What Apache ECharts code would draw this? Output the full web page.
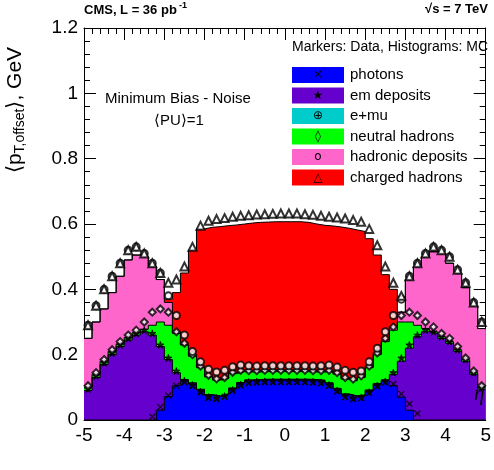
<!DOCTYPE html>
<html><head><meta charset="utf-8">
<script src="https://cdn.jsdelivr.net/npm/echarts@6/dist/echarts.min.js"></script>
<style>html,body{margin:0;background:#fff}#c{width:494px;height:470px}</style>
</head><body><div id="c"></div>
<script>
// eta bins of width 0.2, from -5 to 5 (left half -4.9..-0.1, right half 0.1..4.9)
var photonsCum = [0,0,0,0,0,0,0,0,0,0.03,0.072,0.105,0.12,0.11,0.092,0.076,0.072,0.078,0.096,0.113,0.121,0.122,0.123,0.123,0.123,
    0.123,0.123,0.123,0.122,0.12,0.112,0.095,0.078,0.072,0.075,0.09,0.11,0.12,0.105,0.07,0.03,0,0,0,0,0,0,0,0,0];
var emCum = [0.09,0.13,0.17,0.2,0.225,0.245,0.26,0.27,0.26,0.225,0.185,0.145,0.124,0.114,0.094,0.078,0.074,0.08,0.098,0.115,0.123,0.124,0.125,0.125,0.125,
    0.125,0.125,0.125,0.124,0.122,0.114,0.097,0.08,0.074,0.077,0.092,0.112,0.123,0.14,0.18,0.22,0.255,0.27,0.265,0.25,0.235,0.21,0.18,0.14,0.095];
var neutralCum = [0.1,0.14,0.18,0.21,0.233,0.252,0.267,0.278,0.29,0.3,0.29,0.265,0.23,0.195,0.16,0.132,0.122,0.127,0.142,0.148,0.147,0.147,0.148,0.148,0.148,
    0.148,0.148,0.148,0.147,0.147,0.148,0.14,0.125,0.12,0.13,0.16,0.2,0.24,0.275,0.3,0.3,0.29,0.28,0.27,0.255,0.24,0.215,0.185,0.145,0.1];
var hadronicCum = [0.25,0.3,0.34,0.39,0.44,0.49,0.505,0.5,0.47,0.43,0.36,0.27,0.23,0.198,0.162,0.134,0.124,0.129,0.145,0.151,0.15,0.15,0.151,0.151,0.151,
    0.151,0.151,0.151,0.15,0.15,0.151,0.143,0.128,0.123,0.133,0.163,0.205,0.245,0.285,0.33,0.43,0.47,0.5,0.515,0.51,0.48,0.45,0.405,0.35,0.28];
var chargedCum = [0.25,0.3,0.34,0.39,0.44,0.49,0.505,0.5,0.47,0.43,0.37,0.39,0.45,0.52,0.585,0.59,0.592,0.595,0.597,0.6,0.603,0.605,0.606,0.607,0.607,
    0.607,0.607,0.605,0.6,0.596,0.594,0.591,0.587,0.582,0.577,0.555,0.505,0.445,0.4,0.33,0.43,0.47,0.5,0.515,0.51,0.48,0.45,0.405,0.35,0.28];

// data markers
var dataCharged = [0.29,0.35,0.4,0.44,0.48,0.52,0.53,0.51,0.48,0.45,0.42,0.43,0.47,0.53,0.595,0.61,0.615,0.618,0.622,0.625,0.627,0.629,0.63,0.631,0.632,
    0.632,0.632,0.63,0.628,0.625,0.622,0.62,0.617,0.612,0.607,0.585,0.535,0.47,0.42,0.38,0.44,0.48,0.51,0.53,0.52,0.5,0.46,0.42,0.36,0.3];
var dataHadronic = [0.29,0.35,0.4,0.44,0.48,0.52,0.53,0.51,0.48,0.45,0.38,0.32,0.26,0.21,0.178,0.155,0.147,0.152,0.163,0.168,0.166,0.165,0.166,0.166,0.166,
    0.166,0.166,0.166,0.165,0.166,0.168,0.162,0.152,0.146,0.15,0.178,0.22,0.27,0.32,0.37,0.44,0.48,0.51,0.53,0.52,0.5,0.46,0.42,0.36,0.3];
var dataNeutral = [0.105,0.145,0.185,0.215,0.24,0.26,0.275,0.3,0.33,0.34,0.33,0.27,0.235,0.2,0.165,0.137,0.126,0.13,0.146,0.152,0.151,0.151,0.152,0.152,0.152,
    0.152,0.152,0.152,0.151,0.151,0.152,0.145,0.13,0.125,0.135,0.165,0.205,0.25,0.285,0.32,0.33,0.32,0.3,0.285,0.265,0.25,0.225,0.19,0.15,0.105];
var dataEm = [0.095,0.135,0.175,0.205,0.23,0.25,0.265,0.275,0.265,0.23,0.19,0.15,0.12,0.107,0.087,0.07,0.067,0.073,0.092,0.108,0.116,0.117,0.118,0.118,0.118,
    0.118,0.118,0.118,0.117,0.115,0.107,0.09,0.072,0.066,0.069,0.085,0.105,0.118,0.145,0.19,0.23,0.26,0.275,0.27,0.255,0.24,0.215,0.185,0.145,0.1];
var dataPhotons = [null,null,null,null,null,null,null,null,0.01,0.04,0.075,0.105,0.115,0.104,0.085,0.068,0.064,0.071,0.09,0.106,0.113,0.115,0.116,0.116,0.116,
    0.116,0.116,0.116,0.115,0.113,0.105,0.088,0.07,0.064,0.067,0.083,0.103,0.115,0.11,0.08,0.05,0.02,null,null,null,null,null,null,null,null];

var legendNames = ['photons','em deposits','e+mu','neutral hadrons','hadronic deposits','charged hadrons'];
var legendColors = ['#0000ff','#6600cc','#00cccc','#00ff00','#ff66cc','#ff0000'];
var legendMarks = ['×','★','⊕','◊','o','△'];

function histPoints(vals) {
    var pts = [[-5, vals[0]]];
    for (var i = 0; i < vals.length; i++) {
        pts.push([+(-5 + 0.2 * (i + 1)).toFixed(2), vals[i]]);
    }
    return pts;
}
function markerPoints(vals) {
    var pts = [];
    for (var i = 0; i < vals.length; i++) {
        if (vals[i] != null) pts.push([+(-4.9 + 0.2 * i).toFixed(2), vals[i]]);
    }
    return pts;
}
function hist(vals, color) {
    return {type: 'line', step: 'start', data: histPoints(vals), symbol: 'none',
        lineStyle: {color: '#000', width: 1}, areaStyle: {color: color, opacity: 1}, z: 2};
}
function markers(vals, symbol, size, bw) {
    return {type: 'scatter', data: markerPoints(vals), symbol: symbol, symbolSize: size,
        itemStyle: {color: '#000', borderColor: '#000', borderWidth: bw}, z: 5};
}

var crossPath = 'path://M0,0L10,10M10,0L0,10';
var starPath = 'path://M5,0L6.2,3.6L10,3.6L7,5.9L8.1,9.5L5,7.3L1.9,9.5L3,5.9L0,3.6L3.8,3.6Z';

var myChart = echarts.init(document.getElementById('c'));
var font = 'Liberation Sans';
var graphics = [
    {type: 'text', left: 84, top: 4, style: {text: 'CMS, L = 36 pb', font: 'bold 13px Liberation Sans', fill: '#000'}},
    {type: 'text', left: 179, top: 1, style: {text: '-1', font: 'bold 9px Liberation Sans', fill: '#000'}},
    {type: 'text', right: 6, top: 3, style: {text: '√s = 7 TeV', font: 'bold 13px Liberation Sans', fill: '#000'}},
    {type: 'text', right: 6, top: 40, style: {text: 'Markers: Data, Histograms: MC', font: '14px Liberation Sans', fill: '#000'}},
    {type: 'text', left: 105, top: 91, style: {text: 'Minimum Bias - Noise', font: '15px Liberation Sans', fill: '#000'}},
    {type: 'text', left: 154, top: 113, style: {text: '⟨PU⟩=1', font: '15px Liberation Sans', fill: '#000'}},
    {type: 'text', x: 15, y: 110, rotation: Math.PI / 2,
        style: {text: '⟨p{s|T,offset}⟩, GeV', font: '21px Liberation Sans', fill: '#000', align: 'center', verticalAlign: 'middle',
            rich: {s: {font: '14px Liberation Sans', padding: [10, 0, 0, 0]}}}},
    {type: 'text', left: 474, top: 384, z: 100, style: {text: 'η', font: 'italic 21px Liberation Serif', fill: '#000'}}
];
for (var k = 0; k < legendNames.length; k++) {
    var ly = 67 + k * 20.5;
    graphics.push({type: 'rect', shape: {x: 292, y: ly, width: 52, height: 16},
        style: {fill: legendColors[k], stroke: 'none'}});
    graphics.push({type: 'text', x: 318, y: ly + 8, style: {text: legendMarks[k], font: '12px DejaVu Sans',
        fill: '#000', align: 'center', verticalAlign: 'middle'}});
    graphics.push({type: 'text', x: 350, y: ly + 8, style: {text: legendNames[k], font: '15px Liberation Sans',
        fill: '#000', verticalAlign: 'middle'}});
}

function axisCommon() {
    return {axisLine: {onZero: false, lineStyle: {color: '#000', width: 1}},
        axisTick: {inside: true, length: 12, lineStyle: {color: '#000'}},
        minorTick: {show: true, splitNumber: 5, length: 6, lineStyle: {color: '#000'}},
        splitLine: {show: false}};
}

myChart.setOption({
    animation: false,
    backgroundColor: '#fff',
    grid: {left: 84, right: 4, top: 28, bottom: 50},
    xAxis: [
        Object.assign({type: 'value', min: -5, max: 5, interval: 1, position: 'bottom',
            axisLabel: {color: '#000', fontSize: 19, fontFamily: font, margin: 6}}, axisCommon()),
        Object.assign({type: 'value', min: -5, max: 5, interval: 1, position: 'top', axisLabel: {show: false}}, axisCommon())
    ],
    yAxis: [
        Object.assign({type: 'value', min: 0, max: 1.2, interval: 0.2, position: 'left',
            axisLabel: {color: '#000', fontSize: 19, fontFamily: font, margin: 6,
                formatter: function(v) { return Math.round(v * 10) / 10 + ''; }}}, axisCommon()),
        Object.assign({type: 'value', min: 0, max: 1.2, interval: 0.2, position: 'right', axisLabel: {show: false}}, axisCommon())
    ],
    graphic: graphics,
    series: [
        hist(chargedCum, '#ff0000'),
        hist(hadronicCum, '#ff66cc'),
        hist(neutralCum, '#00ff00'),
        hist(emCum, '#6600cc'),
        hist(photonsCum, '#0000ff'),
        markers(dataPhotons, crossPath, 6, 1.3),
        markers(dataEm, starPath, 7, 1),
        markers(dataNeutral, 'emptyDiamond', 7, 1.2),
        markers(dataHadronic, 'emptyCircle', 7, 1.6),
        markers(dataCharged, 'emptyTriangle', 8, 1)
    ]
});
</script>
</body></html>
